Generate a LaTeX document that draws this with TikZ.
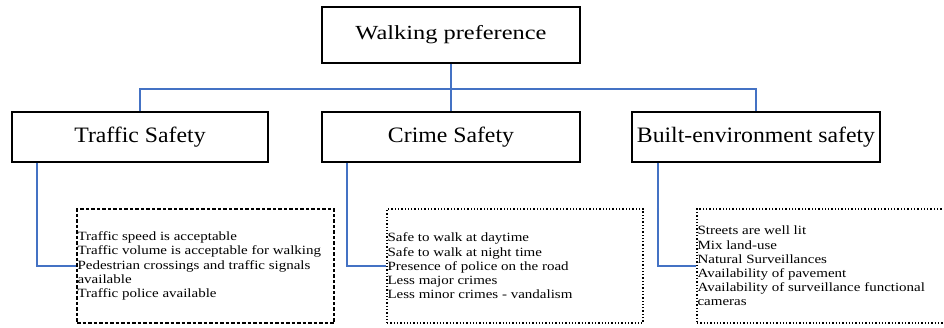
\documentclass[tikz,border=0pt]{standalone}
\usepackage{fontspec}
\setmainfont{Liberation Serif}
\newfontfamily\titlefont[FakeStretch=1.22]{Liberation Serif}
\newfontfamily\headfont[FakeStretch=1.08]{Liberation Serif}
\newfontfamily\itemfont[FakeStretch=1.19]{Liberation Serif}
\usetikzlibrary{calc}
\definecolor{linkblue}{HTML}{4472C4}
\begin{document}
\begin{tikzpicture}[x=1pt,y=-1pt,
  mainbox/.style={draw=black,line width=1.6pt,inner sep=0pt},
  link/.style={draw=linkblue,line width=1.8pt},
  detail/.style={draw=black,line width=1.3pt,inner sep=0pt},
  headtext/.style={font=\headfont\fontsize{22}{26}\selectfont},
  itemtext/.style={anchor=west,align=left,inner sep=1pt,font=\itemfont\fontsize{12.6}{14.2}\selectfont}
]
\clip (0,0) rectangle (944,327);
\useasboundingbox (0,0) rectangle (944,327);
% boxes
\node[mainbox,minimum width=258pt,minimum height=56pt,font=\titlefont\fontsize{20}{24}\selectfont] (top) at (451,35) {Walking preference};
\node[mainbox,headtext,minimum width=256pt,minimum height=50pt] (ts) at (140,137) {Traffic Safety};
\node[mainbox,headtext,minimum width=258pt,minimum height=50pt] (cs) at (451,137) {Crime Safety};
\node[mainbox,headtext,minimum width=248pt,minimum height=50pt] (bs) at (756,137) {Built-environment safety};
% detail boxes
\node[detail,dash pattern=on 3.5pt off 2pt,minimum width=257pt,minimum height=114pt] (d1) at (205.5,266) {};
\node[detail,dotted,minimum width=256pt,minimum height=114pt] (d2) at (515,266) {};
\node[detail,dotted,minimum width=260pt,minimum height=114pt] (d3) at (827,266) {};
% texts
\node[itemtext] (t1) at (d1.west) {Traffic speed is acceptable\\Traffic volume is acceptable for walking\\Pedestrian crossings and traffic signals\\available\\Traffic police available};
\node[itemtext] (t2) at (d2.west) {Safe to walk at daytime\\Safe to walk at night time\\Presence of police on the road\\Less major crimes\\Less minor crimes - vandalism};
\node[itemtext] (t3) at (d3.west) {Streets are well lit\\Mix land-use\\Natural Surveillances\\Availability of pavement\\Availability of surveillance functional\\cameras};
% connectors
\coordinate (hub) at ($(top.south)+(0,25)$);
\draw[link] (top.south) -- (hub);
\draw[link] (ts.north) |- (hub) -| (bs.north);
\draw[link] (hub) -- (cs.north);
\draw[link] ($(ts.south west)+(26,0)$) |- (d1.west);
\draw[link] ($(cs.south west)+(26,0)$) |- (d2.west);
\draw[link] ($(bs.south west)+(27,0)$) |- (d3.west);
\end{tikzpicture}
\end{document}
